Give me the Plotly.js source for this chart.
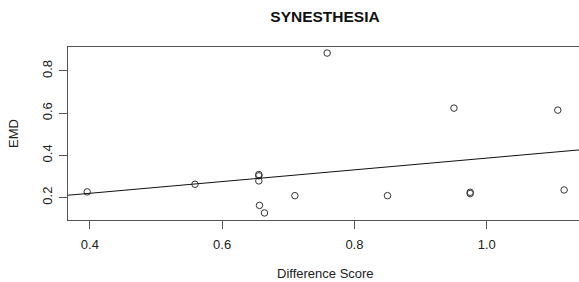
<!DOCTYPE html>
<html>
<head>
<meta charset="utf-8">
<script src="https://cdn.plot.ly/plotly-3.0.1.min.js"></script>
<style>html,body{margin:0;padding:0;overflow:hidden;background:#fff}</style>
</head>
<body>
<div id="chart" style="width:579px;height:282px"></div>
<script>
// Data
const diffScore = [0.396, 0.559, 0.6555, 0.6555, 0.6555, 0.6565, 0.664, 0.710, 0.7588, 0.850, 0.9505, 0.975, 0.975, 1.1074, 1.117];
const emd       = [0.227, 0.263, 0.309, 0.303, 0.279, 0.163, 0.127, 0.209, 0.885, 0.209, 0.624, 0.225, 0.219, 0.6145, 0.236];
// Fitted regression line (abline) coefficients
const fitIntercept = [0.109];
const fitSlope = [0.278];
const xTicks = [0.4, 0.6, 0.8, 1.0];
const xTickText = ["0.4", "0.6", "0.8", "1.0"];
const yTicks = [0.2, 0.4, 0.6, 0.8];
const yTickText = ["0.2", "0.4", "0.6", "0.8"];

const xRange = [0.367, 1.1395];
const yRange = [0.0936, 0.9137];

const lineX = xRange.slice();
const lineY = lineX.map(x => fitIntercept[0] + fitSlope[0] * x);

const FAM = "Liberation Sans, Arial, sans-serif";
const font = {family: FAM, size: 13, color: "#222"};

const traces = [
  {
    x: diffScore, y: emd, type: "scatter", mode: "markers",
    marker: {symbol: "circle-open", size: 6.5, color: "#333", line: {width: 1, color: "#333"}},
    cliponaxis: false, hoverinfo: "skip"
  },
  {
    x: lineX, y: lineY, type: "scatter", mode: "lines",
    line: {color: "#111", width: 1}, hoverinfo: "skip"
  }
];

const layout = {
  width: 579, height: 282,
  margin: {l: 68, r: 0, t: 47, b: 62},
  paper_bgcolor: "#fff", plot_bgcolor: "#fff",
  showlegend: false,
  font: font,
  title: {
    text: "<b>SYNESTHESIA</b>",
    font: {family: FAM, size: 15.5, color: "#111"},
    x: 325 / 579, xref: "container", xanchor: "center",
    y: 1 - 16.7 / 282, yref: "container", yanchor: "middle"
  },
  xaxis: {
    range: xRange, tickvals: xTicks, ticktext: xTickText,
    showgrid: false, zeroline: false,
    showline: true, mirror: true, linecolor: "#555", linewidth: 1,
    ticks: "outside", ticklen: 8, tickcolor: "#555", tickwidth: 1,
    tickfont: font, ticklabelstandoff: 4
  },
  yaxis: {
    range: yRange, tickvals: yTicks, ticktext: yTickText,
    showgrid: false, zeroline: false,
    showline: true, mirror: false, linecolor: "#555", linewidth: 1,
    ticks: "outside", ticklen: 8, tickcolor: "#555", tickwidth: 1,
    tickangle: -90, tickfont: font, ticklabelstandoff: 2
  },
  annotations: [
    {
      text: "Difference Score", xref: "paper", yref: "paper",
      x: (325 - 68) / (579 - 68), y: -(273.5 - 220) / (220 - 47.3),
      xanchor: "center", yanchor: "middle", showarrow: false, font: font
    },
    {
      text: "EMD", xref: "paper", yref: "paper", textangle: -90,
      x: -(68 - 13.5) / (579 - 68), y: 0.5,
      xanchor: "center", yanchor: "middle", showarrow: false, font: font
    }
  ]
};

Plotly.newPlot("chart", traces, layout, {staticPlot: true, displayModeBar: false});
</script>
</body>
</html>
